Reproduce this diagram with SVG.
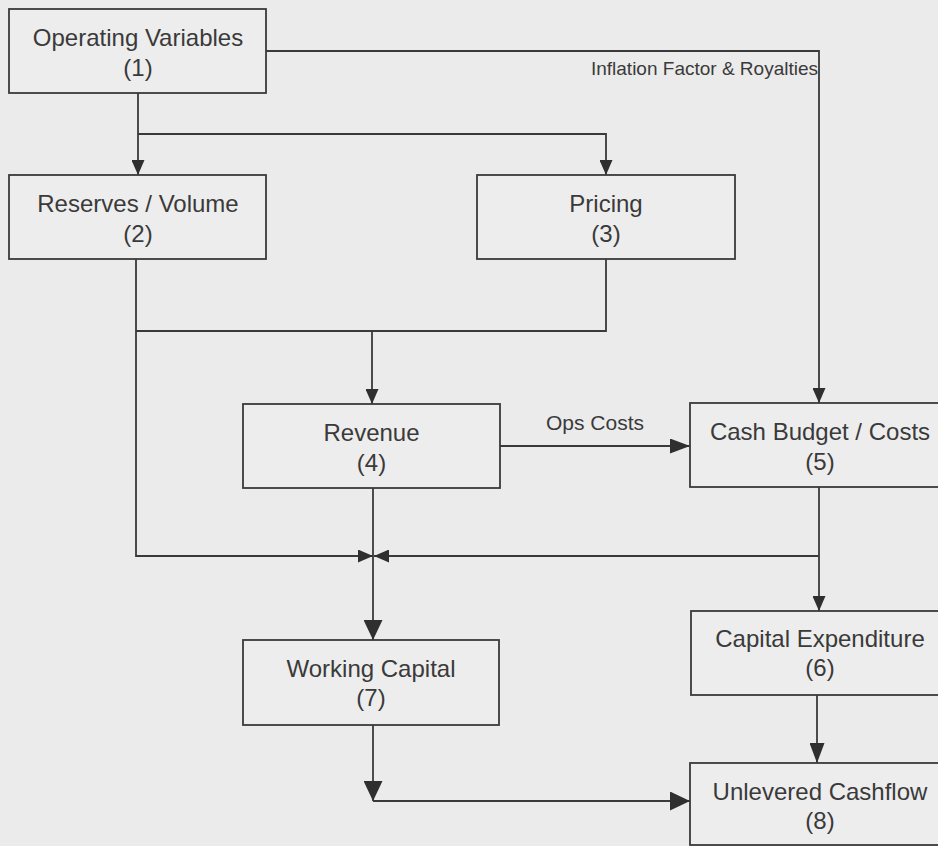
<svg xmlns="http://www.w3.org/2000/svg" width="938" height="846" viewBox="0 0 938 846">
  <defs>
    <marker id="arrow" viewBox="0 0 10 10" refX="10" refY="5" markerUnits="userSpaceOnUse" markerWidth="15" markerHeight="13" orient="auto" preserveAspectRatio="none">
      <path d="M0,0 L10,5 L0,10 z" fill="#2f2f2f"/>
    </marker>
    <marker id="arrow-md" viewBox="0 0 10 10" refX="10" refY="5" markerUnits="userSpaceOnUse" markerWidth="20" markerHeight="15" orient="auto" preserveAspectRatio="none">
      <path d="M0,0 L10,5 L0,10 z" fill="#2f2f2f"/>
    </marker>
    <marker id="arrow-lg" viewBox="0 0 10 10" refX="10" refY="5" markerUnits="userSpaceOnUse" markerWidth="20" markerHeight="19" orient="auto" preserveAspectRatio="none">
      <path d="M0,0 L10,5 L0,10 z" fill="#2f2f2f"/>
    </marker>
  </defs>
  <style>
    .box { fill: #ededed; stroke: #3a3a3a; stroke-width: 1.8; }
    .label { font-family: "Liberation Sans", Arial, sans-serif; font-size: 24px; fill: #3a3a3a; text-anchor: middle; }
    .edge { fill: none; stroke: #3a3a3a; stroke-width: 1.8; }
    .edge-label { font-family: "Liberation Sans", Arial, sans-serif; fill: #3a3a3a; }
  </style>
  <rect x="0" y="0" width="938" height="846" fill="#ebebeb"/>

  <!-- connectors -->
  <g id="connectors">
    <path class="edge" d="M138,93 V175" marker-end="url(#arrow)"/>
    <path class="edge" d="M138,134 H606 V175" marker-end="url(#arrow)"/>
    <path class="edge" d="M266,51 H819 V403" marker-end="url(#arrow)"/>
    <path class="edge" d="M136,259 V556 H373" marker-end="url(#arrow)"/>
    <path class="edge" d="M606,259 V331 H136"/>
    <path class="edge" d="M372,331 V404" marker-end="url(#arrow)"/>
    <path class="edge" d="M500,446 H690" marker-end="url(#arrow-md)"/>
    <path class="edge" d="M373,488 V640" marker-end="url(#arrow-lg)"/>
    <path class="edge" d="M819,487 V611" marker-end="url(#arrow)"/>
    <path class="edge" d="M819,556 H374" marker-end="url(#arrow)"/>
    <path class="edge" d="M817,695 V763" marker-end="url(#arrow-md)"/>
    <path class="edge" d="M373,725 V801" marker-end="url(#arrow-lg)"/>
    <path class="edge" d="M373,801 H690" marker-end="url(#arrow-lg)"/>
    <text class="edge-label" x="818" y="75" font-size="19" text-anchor="end">Inflation Factor &amp; Royalties</text>
    <text class="edge-label" x="595" y="430" font-size="21" text-anchor="middle">Ops Costs</text>
  </g>

  <!-- nodes -->
  <g id="node-1">
    <rect class="box" x="9" y="9" width="257" height="84"/>
    <text class="label" x="138" y="46">Operating Variables</text>
    <text class="label" x="138" y="76">(1)</text>
  </g>
  <g id="node-2">
    <rect class="box" x="9" y="175" width="257" height="84"/>
    <text class="label" x="138" y="212">Reserves / Volume</text>
    <text class="label" x="138" y="242">(2)</text>
  </g>
  <g id="node-3">
    <rect class="box" x="477" y="175" width="258" height="84"/>
    <text class="label" x="606" y="212">Pricing</text>
    <text class="label" x="606" y="242">(3)</text>
  </g>
  <g id="node-4">
    <rect class="box" x="243" y="404" width="257" height="84"/>
    <text class="label" x="371.5" y="441">Revenue</text>
    <text class="label" x="371.5" y="471">(4)</text>
  </g>
  <g id="node-5">
    <rect class="box" x="690" y="403" width="260" height="84"/>
    <text class="label" x="820" y="440">Cash Budget / Costs</text>
    <text class="label" x="820" y="470">(5)</text>
  </g>
  <g id="node-6">
    <rect class="box" x="691" y="611" width="260" height="84"/>
    <text class="label" x="820" y="647">Capital Expenditure</text>
    <text class="label" x="820" y="676">(6)</text>
  </g>
  <g id="node-7">
    <rect class="box" x="243" y="640" width="256" height="85"/>
    <text class="label" x="371" y="677">Working Capital</text>
    <text class="label" x="371" y="706">(7)</text>
  </g>
  <g id="node-8">
    <rect class="box" x="690" y="763" width="260" height="82"/>
    <text class="label" x="820" y="800">Unlevered Cashflow</text>
    <text class="label" x="820" y="829">(8)</text>
  </g>
</svg>
